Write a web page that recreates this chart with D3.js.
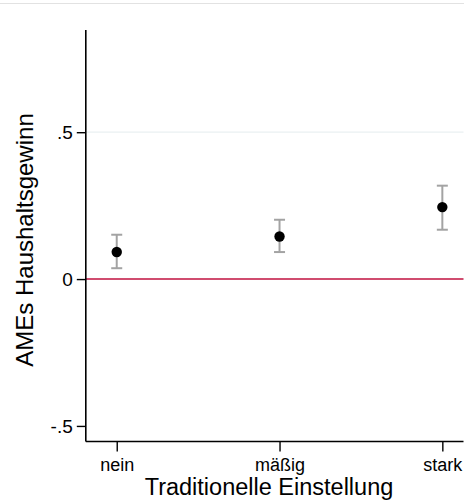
<!DOCTYPE html>
<html>
<head>
<meta charset="utf-8">
<script src="https://cdn.jsdelivr.net/npm/d3@7"></script>
<style>
  body { margin: 0; background: #fff; }
  svg { display: block; font-family: "Liberation Sans", Arial, sans-serif; }
</style>
</head>
<body>
<script>
// Data
const categories = ["nein", "mäßig", "stark"];
const estimates = [0.092, 0.145, 0.245];
const ciLower = [0.037, 0.092, 0.168];
const ciUpper = [0.151, 0.202, 0.318];
const yTicks = [-0.5, 0, 0.5];

const width = 464, height = 501;

const svg = d3.select("body").append("svg")
  .attr("width", width)
  .attr("height", height);

// top frame line
svg.append("line")
  .attr("x1", 0).attr("x2", width)
  .attr("y1", 3.5).attr("y2", 3.5)
  .attr("stroke", "#e2e2e2");

// Scales
const x = d3.scaleLinear().domain([0.81, 3.13]).range([85.8, 463.5]);
const y = d3.scaleLinear().domain([-0.553, 0.848]).range([441.5, 30]);

// gridline at .5
svg.append("line")
  .attr("x1", x(0.81)).attr("x2", x(3.13))
  .attr("y1", y(0.5)).attr("y2", y(0.5))
  .attr("stroke", "#eaf0f2")
  .attr("stroke-width", 1.2);

// zero reference line
svg.append("line")
  .attr("x1", x(0.81)).attr("x2", x(3.13))
  .attr("y1", y(0)).attr("y2", y(0))
  .attr("stroke", "#c1103f")
  .attr("stroke-width", 1.5);

// Axes
const yAxis = d3.axisLeft(y)
  .tickValues(yTicks)
  .tickSize(9)
  .tickPadding(4)
  .tickFormat(d => d === 0 ? "0" : d3.format(".1f")(d).replace("0.", ".").replace("−", "-"));

const gy = svg.append("g")
  .attr("transform", "translate(" + x(0.81) + ",0)")
  .call(yAxis);
gy.select(".domain").attr("d", "M0," + y(0.848) + "V" + y(-0.553)).attr("stroke-width", 1.6);
gy.selectAll(".tick line").attr("stroke-width", 1.4);
gy.selectAll("text").attr("font-size", 19).attr("fill", "#000").attr("font-family", "Liberation Sans, Arial, sans-serif");

const xAxis = d3.axisBottom(x)
  .tickValues([1, 2, 3])
  .tickSize(10)
  .tickPadding(7)
  .tickFormat(d => categories[d - 1]);

const gx = svg.append("g")
  .attr("transform", "translate(0," + y(-0.553) + ")")
  .call(xAxis);
gx.select(".domain").attr("d", "M" + x(0.81) + ",0H" + x(3.13)).attr("stroke-width", 1.6);
gx.selectAll(".tick line").attr("stroke-width", 1.4);
gx.selectAll("text").attr("font-size", 18).attr("fill", "#000").attr("font-family", "Liberation Sans, Arial, sans-serif");

// Error bars
const rows = categories.map((c, i) => ({ i: i + 1, est: estimates[i], lo: ciLower[i], hi: ciUpper[i] }));
const cap = 5.5;

const eb = svg.append("g").attr("stroke", "#a3a3a3").attr("stroke-width", 2);
eb.selectAll(".v").data(rows).enter().append("line")
  .attr("x1", d => x(d.i)).attr("x2", d => x(d.i))
  .attr("y1", d => y(d.lo)).attr("y2", d => y(d.hi));
eb.selectAll(".top").data(rows).enter().append("line")
  .attr("x1", d => x(d.i) - cap).attr("x2", d => x(d.i) + cap)
  .attr("y1", d => y(d.hi)).attr("y2", d => y(d.hi));
eb.selectAll(".bot").data(rows).enter().append("line")
  .attr("x1", d => x(d.i) - cap).attr("x2", d => x(d.i) + cap)
  .attr("y1", d => y(d.lo)).attr("y2", d => y(d.lo));

// Points
svg.append("g").selectAll("circle").data(rows).enter().append("circle")
  .attr("cx", d => x(d.i))
  .attr("cy", d => y(d.est))
  .attr("r", 5.2)
  .attr("fill", "#000");

// Axis titles
svg.append("text")
  .attr("x", 269)
  .attr("y", 495)
  .attr("text-anchor", "middle")
  .attr("font-size", 23.5)
  .text("Traditionelle Einstellung");

svg.append("text")
  .attr("transform", "translate(33,240) rotate(-90)")
  .attr("text-anchor", "middle")
  .attr("font-size", 24)
  .text("AMEs Haushaltsgewinn");
</script>
</body>
</html>
